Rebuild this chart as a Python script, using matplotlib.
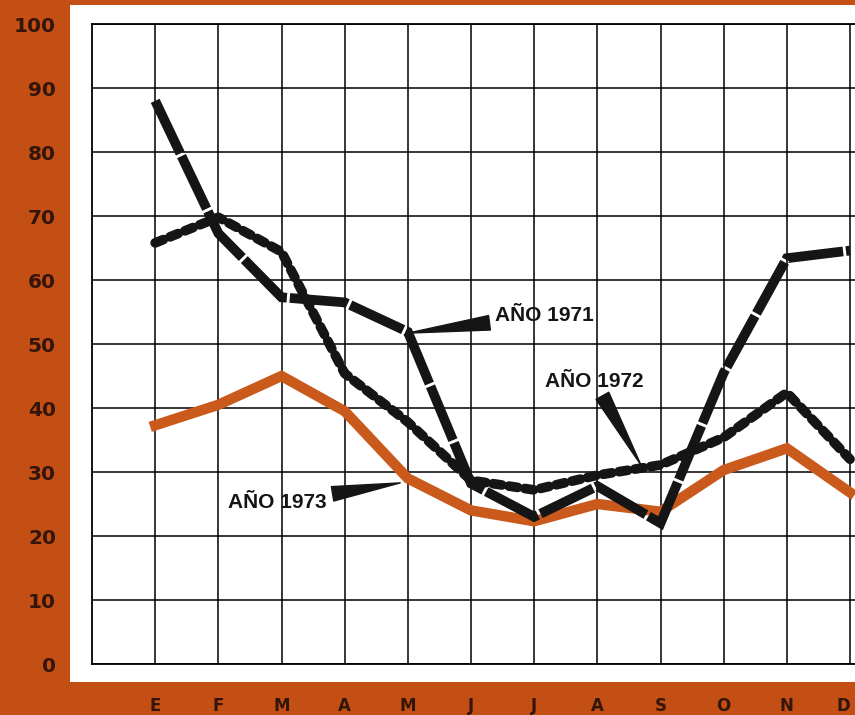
import matplotlib.pyplot as plt
from matplotlib.patches import Rectangle

# meses (enero ... diciembre)
months = ['E', 'F', 'M', 'A', 'M', 'J', 'J', 'A', 'S', 'O', 'N', 'D']
y_ticks = [0, 10, 20, 30, 40, 50, 60, 70, 80, 90, 100]

v1971 = [88, 67.3, 57.3, 56.5, 51.9, 28.2, 23, 27.8, 22, 45.5, 63.4, 64.6]
v1972 = [65.8, 69.8, 64.4, 45.4, 37.8, 28.7, 27.2, 29.5, 31.1, 35.4, 42.4, 32]
v1973 = [37.3, 40.5, 45, 39.5, 29, 24, 22.3, 25, 23.8, 30.3, 33.7, 26.8]

orange_bg = '#c34f14'
orange_line = '#c95a1c'
dark = '#34150a'

fig = plt.figure(figsize=(8.55, 7.15), dpi=100)
fig.patch.set_facecolor(orange_bg)

# white panel behind the grid
panel = Rectangle((70 / 855, 33 / 715), 1, 677 / 715,
                  transform=fig.transFigure, facecolor='white',
                  edgecolor='none', zorder=-1)
fig.add_artist(panel)

ax = fig.add_axes([92 / 855, 51 / 715, 763 / 855, 640 / 715])
ax.set_facecolor('white')

x = list(range(len(months)))

ax.plot(x, v1973, color=orange_line, lw=7.5, solid_joinstyle='miter', zorder=3)
ax.plot(x, v1972, color='#151515', lw=7, linestyle=(0, (0.9, 0.75)),
        dash_capstyle='round', solid_joinstyle='round', zorder=4)
ax.plot(x, v1971, color='#151515', lw=7, linestyle=(0, (6, 0.3)),
        dash_capstyle='butt', dash_joinstyle='miter', zorder=5)

ax.set_xlim(-1, 11 + 5 / 63.2)
ax.set_ylim(0, 100)
ax.set_xticks(x)
ax.set_xticklabels(months)
ax.set_yticks(y_ticks)
ax.set_yticklabels([str(v) for v in y_ticks])
ax.grid(True, color='black', lw=1.1)
ax.tick_params(length=0)
ax.tick_params(axis='y', pad=26, labelsize=14.5, labelcolor=dark)
ax.tick_params(axis='x', pad=24, labelsize=12, labelcolor=dark)
for lab in ax.get_yticklabels() + ax.get_xticklabels():
    lab.set_fontweight('bold')
# last month label sits on the right edge; keep it inside the figure
ax.get_xticklabels()[-1].set_horizontalalignment('right')
for s in ['left', 'top', 'bottom']:
    ax.spines[s].set_linewidth(1.3)
ax.spines['right'].set_visible(False)
ax.set_axisbelow(True)

wedge = dict(arrowstyle='wedge,tail_width=0.7,shrink_factor=0.5',
             color='#151515', shrinkA=2, shrinkB=0)
txt = dict(fontsize=15, fontfamily='Liberation Sans', fontweight='bold',
           color='#151515', va='center', ha='left', zorder=6)

ax.annotate('AÑO 1971', xy=(4, 51.7), xytext=(5.38, 54.4),
            arrowprops=wedge, **txt)
ax.annotate('AÑO 1972', xy=(7.69, 31.1), xytext=(6.17, 44.2),
            arrowprops=wedge, **txt)
ax.annotate('AÑO 1973', xy=(3.88, 28.3), xytext=(1.16, 25.2),
            arrowprops=wedge, **txt)

fig.savefig('out.png', dpi=100, facecolor=fig.get_facecolor())
